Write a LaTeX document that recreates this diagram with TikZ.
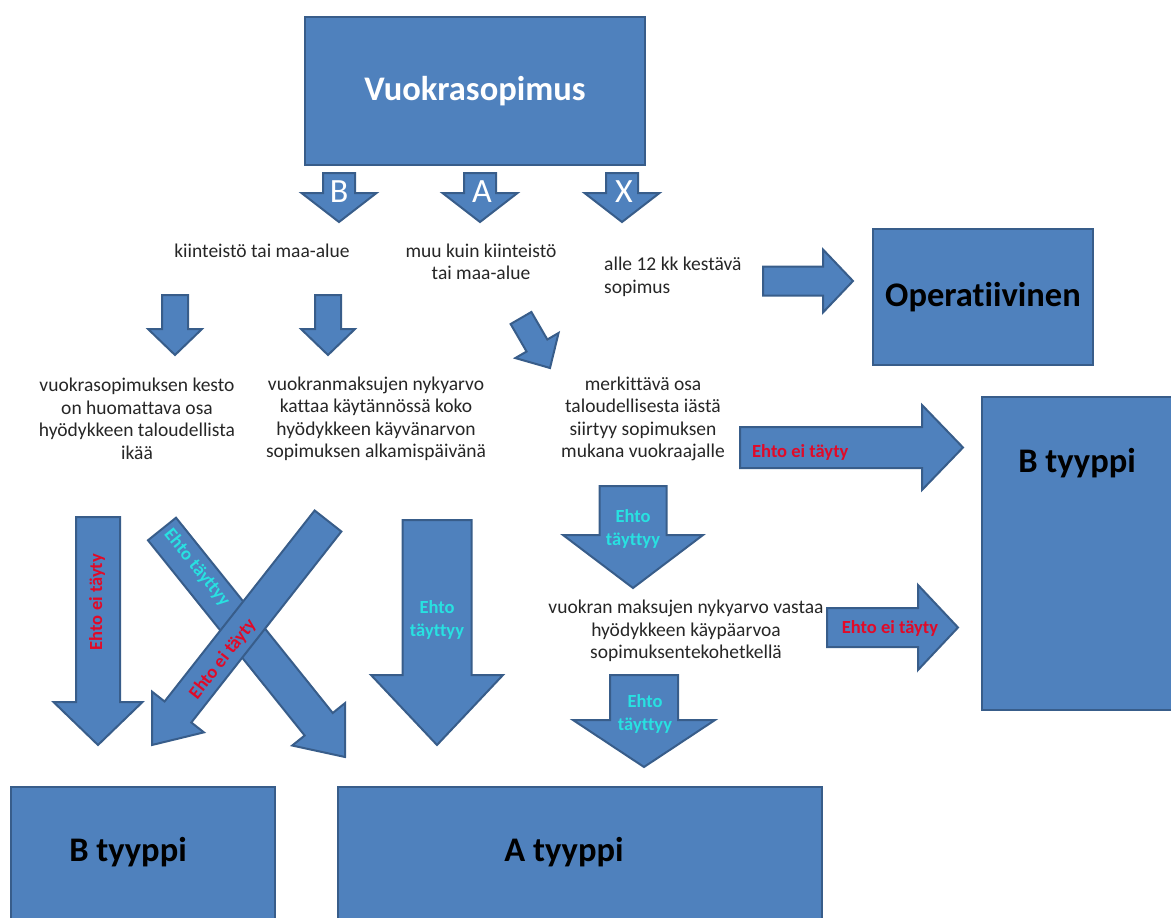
\documentclass[tikz,border=0pt]{standalone}
\usepackage{fontspec}
\setmainfont{Carlito}[Ligatures={NoCommon}]
\usetikzlibrary{calc}
\definecolor{boxfill}{RGB}{79,129,189}
\definecolor{boxline}{RGB}{56,93,138}
\definecolor{oktext}{RGB}{40,225,225}
\definecolor{notext}{RGB}{225,10,40}
\definecolor{bodytext}{RGB}{38,38,38}
% block arrow: #1 start coord, #2 tip coord, #3 shaft half width, #4 head half width, #5 head length
\newcommand\blockarr[5]{%
  \draw[barrow] ($(#1)!#3!90:(#2)$)
    -- ($($(#2)!#5!(#1)$)!#3!90:(#2)$)
    -- ($($(#2)!#5!(#1)$)!#4!90:(#2)$)
    -- (#2)
    -- ($($(#2)!#5!(#1)$)!#4!-90:(#2)$)
    -- ($($(#2)!#5!(#1)$)!#3!-90:(#2)$)
    -- ($(#1)!#3!-90:(#2)$) -- cycle;}
\begin{document}
\begin{tikzpicture}[x=1pt,y=1pt,
  barrow/.style={draw=boxline, fill=boxfill, line width=2pt, line join=miter},
  box/.style={draw=boxline, fill=boxfill, line width=2.5pt, inner sep=0pt},
  body/.style={text=bodytext, font=\fontsize{19.5}{22.5}\selectfont, align=center, inner sep=0pt},
  title/.style={font=\fontsize{34.5}{40}\selectfont\bfseries, inner sep=0pt},
  oklab/.style={text=oktext, font=\fontsize{18.5}{23}\selectfont\bfseries, align=center, inner sep=0pt},
  nolab/.style={text=notext, font=\fontsize{18.5}{22}\selectfont\bfseries, inner sep=0pt},
  letter/.style={text=white, font=\fontsize{34}{38}\selectfont, inner sep=0pt}]
\path[use as bounding box] (0,0) rectangle (1171,-918);
\clip (0,0) rectangle (1171,-918);

% boxes
\node[box, title, text=white, minimum width=340pt, minimum height=148pt] (vuokra) at (475,-91) {Vuokrasopimus};
\node[box, title, text=black, minimum width=220pt, minimum height=136pt] (oper) at (983,-297) {Operatiivinen};
\node[box, minimum width=198pt, minimum height=313pt] (bright) at (1081,-553.5) {};
\node[title, text=black] (brighttxt) at (1077,-463) {B tyyppi};
\node[box, minimum width=264pt, minimum height=143pt] (bleft) at (143,-858.5) {};
\node[title, text=black] (blefttxt) at (128,-852) {B tyyppi};
\node[box, minimum width=484pt, minimum height=143pt] (abox) at (580,-858.5) {};
\node[title, text=black] (aboxtxt) at (564,-852) {A tyyppi};

% arrow end points
\coordinate (bS) at (339,-173); \coordinate (bT) at (339,-222);
\coordinate (aS) at (480,-173); \coordinate (aT) at (480,-222);
\coordinate (xS) at (622,-173); \coordinate (xT) at (622,-222);
\coordinate (opS) at (763,-281); \coordinate (opT) at (853,-281);
\coordinate (l1S) at (175,-295); \coordinate (l1T) at (175,-355);
\coordinate (l2S) at (328,-295); \coordinate (l2T) at (328,-355);
\coordinate (dS) at (521,-318); \coordinate (dT) at (550,-368);
\coordinate (e1S) at (740,-447.5); \coordinate (e1T) at (963,-447.5);
\coordinate (t1S) at (633,-486); \coordinate (t1T) at (633,-588);
\coordinate (e2S) at (827,-627.5); \coordinate (e2T) at (958,-627.5);
\coordinate (t2S) at (644,-675); \coordinate (t2T) at (644,-767);
\coordinate (vS) at (98,-517); \coordinate (vT) at (98,-745);
\coordinate (mS) at (437,-520); \coordinate (mT) at (437,-745);
\coordinate (drS) at (162,-529); \coordinate (drT) at (345,-757);
\coordinate (dlS) at (328,-521); \coordinate (dlT) at (152,-745);

% top small arrows
\blockarr{bS}{bT}{16pt}{37.5pt}{29pt}
\blockarr{aS}{aT}{16pt}{37.5pt}{29pt}
\blockarr{xS}{xT}{16pt}{37.5pt}{29pt}
\node[letter] (lb) at (339,-192) {B};
\node[letter] (la) at (482,-192) {A};
\node[letter] (lx) at (624,-192) {X};

% first row texts
\node[body] (kiint) at (262,-251) {kiinteistö tai maa-alue};
\node[body] (muu) at (481,-262) {muu kuin kiinteistö\\tai maa-alue};
\node[body, align=left, anchor=west] (alle) at (604,-277) {alle 12 kk kestävä\\sopimus};

\blockarr{opS}{opT}{14.5pt}{31.5pt}{30pt}
\blockarr{l1S}{l1T}{13pt}{27pt}{26pt}
\blockarr{l2S}{l2T}{13pt}{27pt}{26pt}
\blockarr{dS}{dT}{12pt}{25pt}{26pt}

% second row texts
\node[body] (kesto) at (137,-419) {vuokrasopimuksen kesto\\on huomattava osa\\hyödykkeen taloudellista\\ikää};
\node[body] (nyky) at (376,-419) {vuokranmaksujen nykyarvo\\kattaa käytännössä koko\\hyödykkeen käyvänarvon\\sopimuksen alkamispäivänä};
\node[body] (merk) at (643,-419) {merkittävä osa\\taloudellisesta iästä\\siirtyy sopimuksen\\mukana vuokraajalle};

% right side arrows
\blockarr{e1S}{e1T}{20.5pt}{42.5pt}{41pt}
\node[nolab, anchor=west] (e1lab) at (752,-452) {Ehto ei täyty};
\blockarr{t1S}{t1T}{33.5pt}{70pt}{53pt}
\node[oklab] (t1lab) at (633,-529) {Ehto\\täyttyy};
\node[body] (vastaa) at (686,-631) {vuokran maksujen nykyarvo vastaa\\hyödykkeen käypäarvoa\\sopimuksentekohetkellä};
\blockarr{e2S}{e2T}{19.5pt}{42.5pt}{40pt}
\node[nolab] (e2lab) at (890,-628) {Ehto ei täyty};
\blockarr{t2S}{t2T}{34pt}{71pt}{47pt}
\node[oklab] (t2lab) at (645,-714) {Ehto\\täyttyy};

% left side arrows
\blockarr{vS}{vT}{22pt}{44.5pt}{43pt}
\node[nolab, rotate=90] (vlab) at (97,-602) {Ehto ei täyty};
\blockarr{mS}{mT}{34.5pt}{66pt}{70pt}
\node[oklab] (mlab) at (437,-620) {Ehto\\täyttyy};
\blockarr{drS}{drT}{18pt}{34pt}{42pt}
\node[oklab, rotate=-51] (drlab) at (197,-568) {Ehto täyttyy};
\blockarr{dlS}{dlT}{17pt}{33pt}{42pt}
\node[nolab, rotate=52] (dllab) at (223,-659) {Ehto ei täyty};
\end{tikzpicture}
\end{document}
